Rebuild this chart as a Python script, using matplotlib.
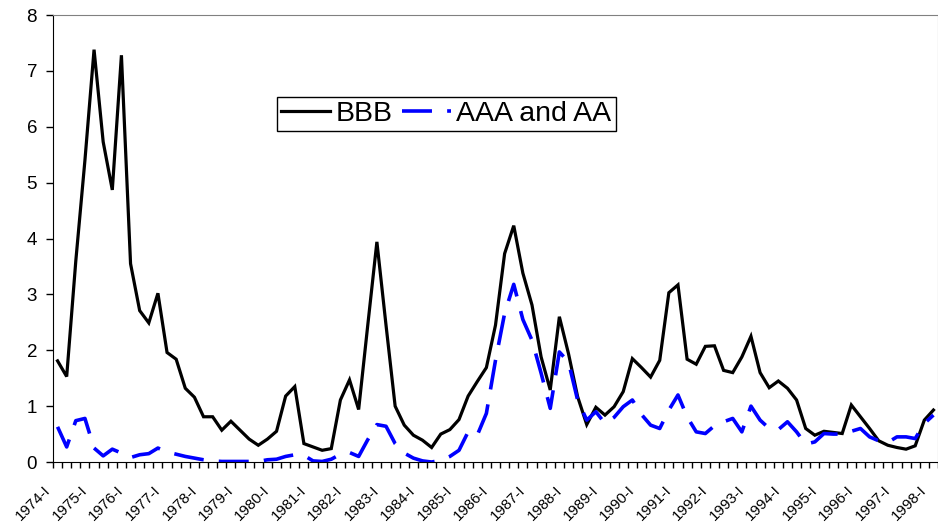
import numpy as np
import matplotlib
matplotlib.use("Agg")
import matplotlib.pyplot as plt
from matplotlib.transforms import ScaledTranslation

plt.rcParams['font.family'] = ['Liberation Sans', 'DejaVu Sans']

# quarterly, 1974-I .. 1998-I
years = list(range(1974, 1999))
quarters = [f"{y}-{q}" for y in years for q in ["I", "II", "III", "IV"]][:97]
tick_labels = [f"{y}-I" for y in years]

bbb = [1.81, 1.53, 3.6, 5.4, 7.38, 5.73, 4.87, 7.28, 3.55, 2.71,
       2.49, 3.02, 1.96, 1.84, 1.32, 1.16, 0.81, 0.81, 0.57, 0.73,
       0.57, 0.41, 0.30, 0.41, 0.55, 1.18, 1.35, 0.33, 0.27, 0.21,
       0.24, 1.11, 1.47, 0.94, 2.45, 3.94, 2.45, 1.0, 0.66, 0.48,
       0.39, 0.26, 0.50, 0.58, 0.76, 1.18, 1.44, 1.69, 2.45, 3.73,
       4.23, 3.38, 2.81, 1.88, 1.29, 2.6, 1.94, 1.17, 0.67, 0.98,
       0.84, 0.99, 1.26, 1.85, 1.69, 1.52, 1.82, 3.03, 3.17, 1.84,
       1.75, 2.07, 2.08, 1.64, 1.6, 1.88, 2.25, 1.6, 1.33, 1.45,
       1.32, 1.11, 0.6, 0.48, 0.55, 0.53, 0.51, 1.02, 0.81, 0.6,
       0.38, 0.3, 0.26, 0.23, 0.29, 0.75, 0.93]

aaa = [0.63, 0.27, 0.74, 0.78, 0.25, 0.11, 0.23, 0.16, 0.08, 0.13,
       0.15, 0.25, 0.18, 0.14, 0.10, 0.07, 0.04, 0.02, 0.01, 0.01,
       0.01, 0.01, 0.01, 0.04, 0.05, 0.10, 0.13, 0.12, 0.02, 0.01,
       0.05, 0.14, 0.17, 0.10, 0.40, 0.67, 0.64, 0.33, 0.16, 0.07,
       0.02, 0.0, 0.03, 0.10, 0.21, 0.54, 0.48, 0.87, 1.82, 2.66,
       3.18, 2.55, 2.18, 1.59, 0.96, 1.97, 1.79, 1.11, 0.75, 0.90,
       0.69, 0.80, 0.99, 1.11, 0.85, 0.66, 0.60, 0.93, 1.20, 0.81,
       0.54, 0.51, 0.65, 0.72, 0.78, 0.54, 1.0, 0.75, 0.6, 0.58,
       0.72, 0.54, 0.32, 0.36, 0.51, 0.5, 0.5, 0.55, 0.6, 0.45,
       0.38, 0.35, 0.45, 0.45, 0.42, 0.69, 0.84]

x = np.arange(len(quarters))

fig = plt.figure(figsize=(9.38, 5.27), dpi=100)
ax = fig.add_axes([0.0565, 0.1233, 0.9435, 0.8482])

ax.plot(x, bbb, color='black', lw=2.3, label='BBB', solid_joinstyle='miter')
ax.plot(x, aaa, color='#0000ff', lw=2.6, linestyle=(0, (8.3, 4.2)), label='AAA and AA')

ax.set_xlim(-0.5, len(quarters) - 0.5)
ax.set_ylim(0, 8)
ax.set_yticks(range(0, 9))
ax.tick_params(axis='y', labelsize=13.5, length=5, width=1, direction='out', pad=6.5)

ax.set_xticks(x[::4])
ax.set_xticklabels(tick_labels, rotation=45, ha='right', rotation_mode='anchor', fontsize=10.8)
ax.tick_params(axis='x', length=0, pad=4)
ax.set_xticks(np.arange(len(quarters) + 1) - 0.5, minor=True)
ax.tick_params(axis='x', which='minor', length=4.5, width=1, direction='out')

# shift the slanted labels down-left like the original
offset = ScaledTranslation(-10 / 72, -11 / 72, fig.dpi_scale_trans)
for lab in ax.get_xticklabels():
    lab.set_transform(lab.get_transform() + offset)

ax.spines['left'].set_color('black')
ax.spines['bottom'].set_color('black')
ax.spines['top'].set_color('#808080')
ax.spines['right'].set_color('#808080')

leg = ax.legend(loc='upper left', bbox_to_anchor=(0.253, 0.817), ncol=2, fontsize=20.5,
                frameon=True, fancybox=False, edgecolor='black', framealpha=1,
                borderaxespad=0, handlelength=1.7, handletextpad=0.2, columnspacing=0.35,
                borderpad=0.15)
leg.get_frame().set_linewidth(1)

fig.savefig('out.png', dpi=100)
